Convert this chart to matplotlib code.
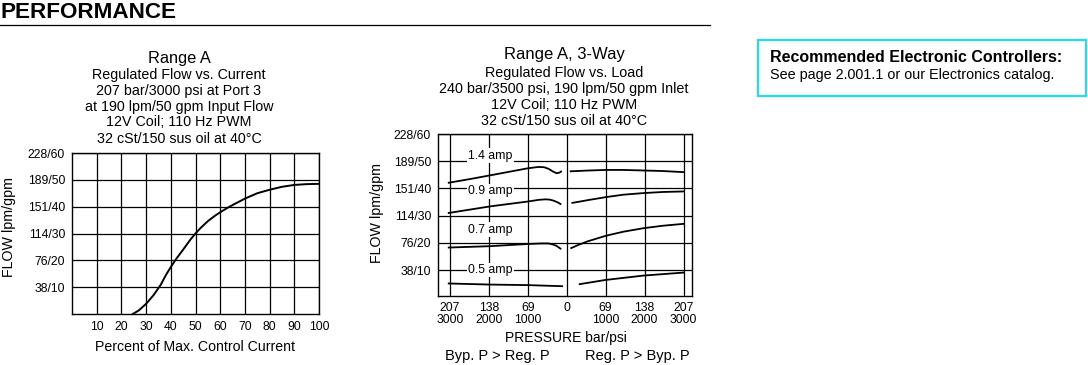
import matplotlib
matplotlib.use("Agg")
import matplotlib.pyplot as plt
from matplotlib.patches import Rectangle
from matplotlib.lines import Line2D

plt.rcParams['font.family'] = ['Liberation Sans', 'DejaVu Sans']

W, H = 1088, 365

# ---- data: Range A, flow vs current ----
pct_current = [24.6, 27, 30, 33, 36, 38, 40, 42, 45, 48, 50, 52, 55, 58, 60, 63, 65, 70, 75, 80, 85, 90, 95, 100]
flow_current = [0, 1.3, 3.8, 7, 11, 14.5, 17.5, 20.3, 24, 27.8, 30, 32, 34.6, 36.7, 37.9, 39.6, 40.6, 43, 45, 46.3, 47.4, 48.1, 48.4, 48.5]

left_xticks = [10, 20, 30, 40, 50, 60, 70, 80, 90, 100]
flow_ticks = [10, 20, 30, 40, 50, 60]
flow_labels = ['38/10', '76/20', '114/30', '151/40', '189/50', '228/60']

# ---- data: Range A 3-way, flow vs load (negative = Byp. P > Reg. P) ----
amp14_l_x = [-209, -170, -136, -100, -69, -50, -40, -32, -25, -18, -13, -10]
amp14_l_y = [42.1, 43.5, 44.8, 46.2, 47.4, 47.9, 47.8, 47.2, 46.3, 45.6, 45.8, 46.2]
amp14_r_x = [7, 40, 69, 100, 136, 170, 207]
amp14_r_y = [46.3, 46.6, 46.8, 46.8, 46.6, 46.4, 46.0]
amp09_l_x = [-209, -136, -69, -50, -38, -30, -23, -16, -11]
amp09_l_y = [31.0, 33.4, 35.2, 35.8, 36.0, 35.9, 35.5, 34.9, 34.3]
amp09_r_x = [10, 40, 69, 100, 136, 170, 207]
amp09_r_y = [34.7, 35.8, 36.8, 37.7, 38.3, 38.7, 38.9]
amp07_l_x = [-209, -136, -69, -45, -32, -24, -18, -11]
amp07_l_y = [18.3, 18.8, 19.6, 19.8, 19.8, 19.4, 18.9, 17.9]
amp07_r_x = [8, 20, 36, 69, 100, 136, 170, 207]
amp07_r_y = [18.1, 19.2, 20.5, 22.6, 24.1, 25.4, 26.3, 27.0]
amp05_l_x = [-209, -136, -69, -8]
amp05_l_y = [5.1, 4.7, 4.5, 4.1]
amp05_r_x = [23, 69, 136, 207]
amp05_r_y = [4.85, 6.4, 8.0, 9.1]

amp_names = ['1.4 amp', '0.9 amp', '0.7 amp', '0.5 amp']
amp_label_y = [52, 39, 24.8, 10.1]

press_ticks = [-207, -138, -69, 0, 69, 138, 207]
press_labels = ['207\n3000', '138\n2000', '69\n1000', '0', '69\n1000', '138\n2000', '207\n3000']


def px_axes(fig, l, t, r, b):
    return fig.add_axes([l / W, 1 - b / H, (r - l) / W, (b - t) / H])


def ptext(fig, x, y, s, **kw):
    fig.text(x / W, 1 - y / H, s, **kw)


def style_axes(ax):
    for sp in ax.spines.values():
        sp.set_linewidth(1.0)
        sp.set_color('black')
    ax.grid(True, color='black', linewidth=0.9)
    ax.set_axisbelow(True)


fig = plt.figure(figsize=(W / 100, H / 100), dpi=100)

# header
ptext(fig, 0, 18.5, 'PERFORMANCE', fontsize=16.2, fontweight='bold', va='baseline', ha='left')
fig.add_artist(Line2D([0, 710 / W], [1 - 25 / H, 1 - 25 / H], color='black', linewidth=0.9))

# ---- left chart ----
ax1 = px_axes(fig, 72, 153, 319, 314)
style_axes(ax1)
ax1.plot(pct_current, flow_current, color='black', linewidth=1.4)
ax1.set_xlim(0, 100)
ax1.set_ylim(0, 60)
ax1.set_xticks(left_xticks)
ax1.set_yticks(flow_ticks)
ax1.set_yticklabels(flow_labels)
ax1.tick_params(length=0, labelsize=8.7, pad=5)

cx = 179
ptext(fig, cx, 58, 'Range A', fontsize=11.8, ha='center', va='center')
for i, s in enumerate(['Regulated Flow vs. Current', '207 bar/3000 psi at Port 3',
                       'at 190 lpm/50 gpm Input Flow', '12V Coil; 110 Hz PWM',
                       '32 cSt/150 sus oil at 40°C']):
    ptext(fig, cx, 74.5 + 16 * i, s, fontsize=10.3, ha='center', va='center')
ptext(fig, 9, 227, 'FLOW lpm/gpm', fontsize=10.3, rotation=90, ha='center', va='center')
ptext(fig, 195, 347, 'Percent of Max. Control Current', fontsize=10.2, ha='center', va='center')

# ---- right chart ----
ax2 = px_axes(fig, 438, 134, 692, 296)
style_axes(ax2)
for xs, ys in [(amp14_l_x, amp14_l_y), (amp14_r_x, amp14_r_y),
               (amp09_l_x, amp09_l_y), (amp09_r_x, amp09_r_y),
               (amp07_l_x, amp07_l_y), (amp07_r_x, amp07_r_y),
               (amp05_l_x, amp05_l_y), (amp05_r_x, amp05_r_y)]:
    ax2.plot(xs, ys, color='black', linewidth=1.3)
for name, yy in zip(amp_names, amp_label_y):
    ax2.text(-135, yy, name, fontsize=8.8, ha='center', va='center',
             bbox=dict(facecolor='white', edgecolor='none', pad=1.0))
ax2.set_xlim(-228, 222)
ax2.set_ylim(0.5, 60)
ax2.set_xticks(press_ticks)
ax2.set_xticklabels(press_labels, linespacing=1.05)
ax2.set_yticks(flow_ticks)
ax2.set_yticklabels(flow_labels)
ax2.tick_params(length=0, labelsize=8.7, pad=5)
ax2.tick_params(axis='x', pad=4)

cx2 = 564
ptext(fig, cx2, 55, 'Range A, 3-Way', fontsize=12, ha='center', va='center')
for i, s in enumerate(['Regulated Flow vs. Load', '240 bar/3500 psi, 190 lpm/50 gpm Inlet',
                       '12V Coil; 110 Hz PWM', '32 cSt/150 sus oil at 40°C']):
    ptext(fig, cx2, 72.5 + 16.3 * i, s, fontsize=10.4, ha='center', va='center')
ptext(fig, 377, 213, 'FLOW lpm/gpm', fontsize=10.3, rotation=90, ha='center', va='center')
ptext(fig, 566, 338, 'PRESSURE bar/psi', fontsize=10, ha='center', va='center')
ptext(fig, 497, 356, 'Byp. P > Reg. P', fontsize=10.5, ha='center', va='center')
ptext(fig, 637, 356, 'Reg. P > Byp. P', fontsize=10.5, ha='center', va='center')

# ---- controllers box ----
fig.add_artist(Rectangle((758 / W, 1 - 96 / H), (1086 - 758) / W, (96 - 40) / H,
                         transform=fig.transFigure, fill=False,
                         edgecolor='#22dcee', linewidth=1.6))
ptext(fig, 770, 57, 'Recommended Electronic Controllers:', fontsize=11.5, fontweight='bold',
      ha='left', va='center')
ptext(fig, 770, 75, 'See page 2.001.1 or our Electronics catalog.', fontsize=10.4,
      ha='left', va='center')

fig.savefig('out.png', dpi=100)
